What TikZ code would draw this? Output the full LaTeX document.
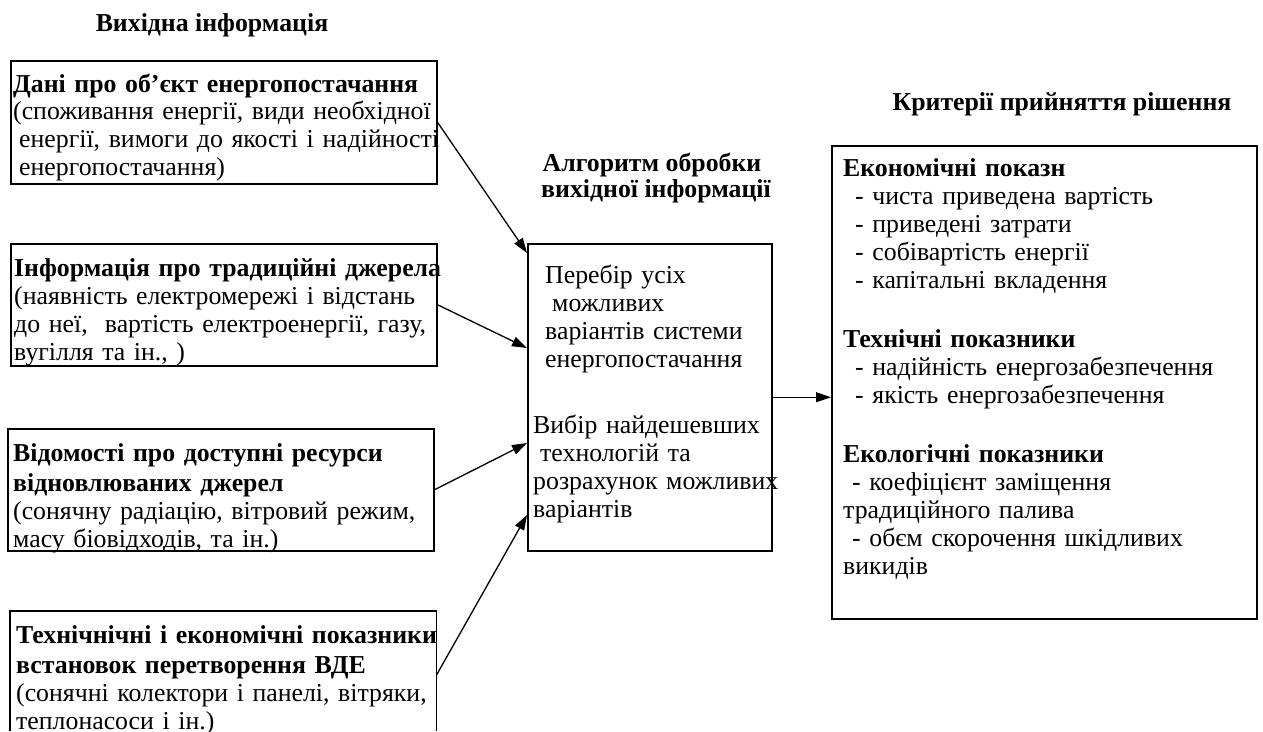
\documentclass[tikz,border=0pt]{standalone}
\usepackage{fontspec}
\setmainfont{Liberation Serif}
\usetikzlibrary{arrows.meta,calc}

\tikzset{
  box/.style={draw, line width=1.5pt, rectangle, inner sep=0pt},
  txt/.style={anchor=base west, inner sep=0pt, align=left, text width=600pt,
              font=\fontsize{25.8}{28}\selectfont},
  ttl/.style={anchor=base, inner sep=0pt,
              font=\fontsize{25.8}{28}\selectfont\bfseries},
  arr/.style={line width=1.3pt, -{Triangle[length=15pt,width=10pt]}}
}

\begin{document}
\begin{tikzpicture}[x=1pt,y=-1pt]
\useasboundingbox (0,0) rectangle (1263,731);

% column titles
\node[ttl] (t1) at (212,31) {Вихідна інформація};
\node[ttl] (t2a) at (652,171) {Алгоритм обробки};
\node[ttl] (t2b) at (656,197) {вихідної інформації};
\node[ttl] (t3) at (1062,110) {Критерії прийняття рішення};

% input boxes
\node[box, anchor=north west, minimum width=426pt, minimum height=123pt] (b1) at (10,60) {};
\node[box, anchor=north west, minimum width=426pt, minimum height=122pt] (b2) at (10,243) {};
\node[box, anchor=north west, minimum width=426pt, minimum height=122pt] (b3) at (7,428) {};
\node[anchor=north west, inner sep=0pt, minimum width=426pt, minimum height=120pt] (b4) at (10,611) {};
\draw[line width=1.5pt] (b4.south west) -- (b4.north west) -- (b4.north east) -- (b4.south east);

\node[txt] (b1t) at (13,92) {\textbf{Дані про об’єкт енергопостачання}\\[-1pt]
(споживання енергії, види необхідної\\
\hspace*{6pt}енергії, вимоги до якості і надійності\\
\hspace*{6pt}енергопостачання)};
\node[txt] (b2t) at (14,276) {\textbf{Інформація про традиційні джерела}\\
(наявність електромережі і відстань\\
до неї,\ \ вартість електроенергії, газу,\\
вугілля та ін., )};
\node[txt] (b3t) at (13,461) {\textbf{Відомості про доступні ресурси}\\[2pt]
\textbf{відновлюваних джерел}\\
(сонячну радіацію, вітровий режим,\\
масу біовідходів, та ін.)};
\node[txt] (b4t) at (16,643) {\textbf{Технічнічні і економічні показники}\\[2pt]
\textbf{встановок перетворення ВДЕ}\\
(сонячні колектори і панелі, вітряки,\\
теплонасоси і ін.)};

% processing box
\node[box, anchor=north west, minimum width=244pt, minimum height=307pt] (mid) at (527,243) {};
\node[txt] (m1) at (545,283) {Перебір усіх\\
\hspace*{7pt}можливих\\
варіантів системи\\
енергопостачання};
\node[txt] (m2) at (533,433) {Вибір найдешевших\\
\hspace*{7pt}технологій та\\
розрахунок можливих\\
варіантів};

% decision criteria box
\node[box, anchor=north west, minimum width=425pt, minimum height=473pt] (crit) at (831,145) {};
\node[txt] (c1) at (843,176) {\textbf{Економічні показн}\\
\hspace*{12pt}- чиста приведена вартість\\
\hspace*{12pt}- приведені затрати\\
\hspace*{12pt}- собівартість енергії\\
\hspace*{12pt}- капітальні вкладення\\[31pt]
\textbf{Технічні показники}\\
\hspace*{12pt}- надійність енергозабезпечення\\
\hspace*{12pt}- якість енергозабезпечення\\[31pt]
\textbf{Екологічні показники}\\
\hspace*{9pt}- коефіцієнт заміщення\\
традиційного палива\\
\hspace*{9pt}- обєм скорочення шкідливих\\
викидів};

% connectors
\draw[arr] (b1.east) -- ([yshift=-10pt]mid.north west);
\draw[arr] (b2.east) -- ([yshift=-105pt]mid.north west);
\draw[arr] (b3.east) -- ([yshift=-200pt]mid.north west);
\draw[arr] ([yshift=-4pt]b4.east) -- ([yshift=-272pt]mid.north west);
\draw[arr] (mid.east) -- (mid.east -| crit.west);
\end{tikzpicture}
\end{document}
